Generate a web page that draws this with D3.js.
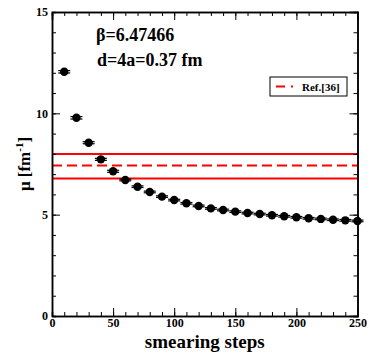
<!DOCTYPE html>
<html>
<head>
<meta charset="utf-8">
<script src="https://cdn.jsdelivr.net/npm/d3@7"></script>
<style>
  body { margin: 0; background: #fff; }
  text { font-family: "Liberation Serif", "Times New Roman", serif; font-weight: bold; }
</style>
</head>
<body>
<svg width="374" height="358"></svg>
<script>
var steps = [10, 20, 30, 40, 50, 60, 70, 80, 90, 100, 110, 120, 130, 140, 150, 160, 170, 180, 190, 200, 210, 220, 230, 240, 250];
var mu = [12.05, 9.78, 8.55, 7.73, 7.14, 6.71, 6.38, 6.12, 5.89, 5.72, 5.56, 5.43, 5.31, 5.23, 5.15, 5.08, 5.03, 4.97, 4.92, 4.87, 4.82, 4.79, 4.75, 4.72, 4.69];
var muErr = [0.06, 0.06, 0.05, 0.05, 0.05, 0.04, 0.04, 0.04, 0.04, 0.04, 0.04, 0.04, 0.04, 0.04, 0.04, 0.04, 0.04, 0.04, 0.04, 0.04, 0.04, 0.04, 0.04, 0.04, 0.04];
var refCentral = 7.42, refLow = 6.78, refHigh = 7.99;
var xTicks = [0, 50, 100, 150, 200, 250];
var yTicks = [0, 5, 10, 15];

var svg = d3.select("svg"),
    margin = {left: 52, right: 16.5, top: 12, bottom: 42},
    width = 374 - margin.left - margin.right,
    height = 358 - margin.top - margin.bottom;

var x = d3.scaleLinear().domain([0, 250]).range([0, width]),
    y = d3.scaleLinear().domain([0, 15]).range([height, 0]);

var g = svg.append("g").attr("transform", "translate(" + margin.left + "," + margin.top + ")");

// reference band lines
g.append("line").attr("x1", 0).attr("x2", width).attr("y1", y(refHigh)).attr("y2", y(refHigh))
    .attr("stroke", "#f00").attr("stroke-width", 2);
g.append("line").attr("x1", 0).attr("x2", width).attr("y1", y(refLow)).attr("y2", y(refLow))
    .attr("stroke", "#f00").attr("stroke-width", 2);
g.append("line").attr("x1", 0).attr("x2", width).attr("y1", y(refCentral)).attr("y2", y(refCentral))
    .attr("stroke", "#f00").attr("stroke-width", 2).attr("stroke-dasharray", "10,5");

// data points with error bars
var pts = g.append("g").selectAll("g").data(steps).enter().append("g");
pts.append("line")
    .attr("x1", function(d) { return x(d); }).attr("x2", function(d) { return x(d); })
    .attr("y1", function(d, i) { return y(mu[i] + muErr[i]); })
    .attr("y2", function(d, i) { return y(mu[i] - muErr[i]); })
    .attr("stroke", "#000");
pts.selectAll(".cap").data(function(d, i) { return [[d, mu[i] + muErr[i]], [d, mu[i] - muErr[i]]]; })
  .enter().append("line")
    .attr("x1", function(d) { return x(d[0]) - 6; }).attr("x2", function(d) { return x(d[0]) + 6; })
    .attr("y1", function(d) { return y(d[1]); }).attr("y2", function(d) { return y(d[1]); })
    .attr("stroke", "#000").attr("stroke-width", 1.2);
pts.append("circle")
    .attr("cx", function(d) { return x(d); })
    .attr("cy", function(d, i) { return y(mu[i]); })
    .attr("r", 4.2).attr("fill", "#000");

// axes, ticks inward on all four sides
function tickSet(axis) { return axis.tickSizeOuter(0).tickPadding(4); }
var xMinor = d3.range(0, 251, 10), yMinor = d3.range(0, 16, 1);

g.append("g").attr("transform", "translate(0," + height + ")")
    .call(d3.axisBottom(x).tickValues(xMinor).tickSize(-4).tickFormat(""));
g.append("g").attr("transform", "translate(0," + height + ")")
    .call(tickSet(d3.axisBottom(x).tickValues(xTicks).tickSize(-8).tickFormat(d3.format("d"))))
    .attr("class", "xaxis");
g.append("g").call(d3.axisTop(x).tickValues(xMinor).tickSize(-4).tickFormat(""));
g.append("g").call(d3.axisTop(x).tickValues(xTicks).tickSize(-8).tickFormat(""));

g.append("g").call(d3.axisLeft(y).tickValues(yMinor).tickSize(-4).tickFormat(""));
g.append("g").call(tickSet(d3.axisLeft(y).tickValues(yTicks).tickSize(-8).tickFormat(d3.format("d"))))
    .attr("class", "yaxis");
g.append("g").attr("transform", "translate(" + width + ",0)")
    .call(d3.axisRight(y).tickValues(yMinor).tickSize(-4).tickFormat(""));
g.append("g").attr("transform", "translate(" + width + ",0)")
    .call(d3.axisRight(y).tickValues(yTicks).tickSize(-8).tickFormat(""));

g.selectAll(".domain").attr("stroke", "#000").attr("stroke-width", 1.5);
g.selectAll(".tick line").attr("stroke", "#000").attr("stroke-width", 1);
g.selectAll(".xaxis text").attr("font-size", 12).attr("font-family", "Liberation Serif").attr("font-weight", "bold").attr("dy", "0.6em");
g.selectAll(".yaxis text").attr("font-size", 12).attr("font-family", "Liberation Serif").attr("font-weight", "bold").attr("x", -4);

// axis titles
svg.append("text").attr("x", margin.left + width / 2).attr("y", 348)
    .attr("text-anchor", "middle").attr("font-size", 19).text("smearing steps");
var yl = svg.append("text").attr("transform", "translate(30," + (margin.top + height / 2) + ") rotate(-90)")
    .attr("text-anchor", "middle").attr("font-size", 17);
yl.append("tspan").text("\u03bc [fm");
yl.append("tspan").attr("dy", -7).attr("font-size", 11).text("-1");
yl.append("tspan").attr("dy", 7).text("]");

// annotations
svg.append("text").attr("x", 96).attr("y", 41).attr("font-size", 18).text("\u03b2=6.47466");
svg.append("text").attr("x", 97).attr("y", 66).attr("font-size", 18).text("d=4a=0.37 fm");

// legend
var lg = svg.append("g");
lg.append("rect").attr("x", 270).attr("y", 77).attr("width", 77).attr("height", 19)
    .attr("fill", "#fff").attr("stroke", "#000").attr("stroke-width", 1);
lg.append("line").attr("x1", 276).attr("x2", 293).attr("y1", 86.5).attr("y2", 86.5)
    .attr("stroke", "#f00").attr("stroke-width", 2).attr("stroke-dasharray", "9,6,2,10");
lg.append("text").attr("x", 302).attr("y", 91).attr("font-size", 11).text("Ref.[36]");
</script>
</body>
</html>
